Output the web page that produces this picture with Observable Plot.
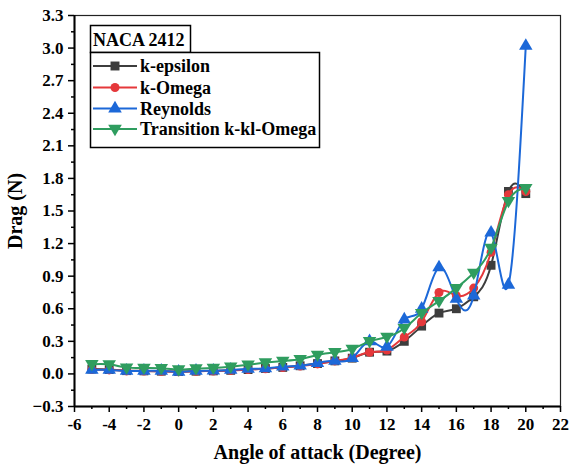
<!DOCTYPE html>
<html><head><meta charset="utf-8">
<script src="https://cdn.jsdelivr.net/npm/d3@7"></script>
<script src="https://cdn.jsdelivr.net/npm/@observablehq/plot@0.6"></script>
<style>body{margin:0;background:#fff} svg{font-family:"Liberation Serif","Times New Roman",serif}</style>
</head><body><div id="chart"></div><script>
const angles = [-5,-4,-3,-2,-1,0,1,2,3,4,5,6,7,8,9,10,11,12,13,14,15,16,17,18,19,20];
const kEpsilon = [0.045,0.04,0.03,0.028,0.025,0.022,0.025,0.028,0.033,0.04,0.05,0.06,0.075,0.095,0.12,0.145,0.2,0.21,0.30,0.44,0.56,0.60,0.71,1.00,1.68,1.66];
const kOmega = [0.04,0.037,0.028,0.026,0.024,0.02,0.024,0.027,0.032,0.04,0.048,0.058,0.072,0.092,0.12,0.15,0.2,0.22,0.34,0.48,0.75,0.72,0.79,1.12,1.65,1.68];
const reynolds = [0.037,0.037,0.028,0.028,0.028,0.02,0.028,0.03,0.037,0.046,0.05,0.067,0.076,0.10,0.12,0.145,0.30,0.25,0.50,0.60,0.98,0.69,0.72,1.30,0.82,3.02];
const transition = [0.09,0.088,0.058,0.055,0.052,0.04,0.05,0.055,0.067,0.085,0.105,0.12,0.135,0.175,0.20,0.23,0.30,0.34,0.42,0.56,0.67,0.79,0.93,1.16,1.59,1.71];
const seriesNames = ["k-epsilon","k-Omega","Reynolds","Transition k-kl-Omega"];
const seriesColors = ["#3d3d3d","#e5383b","#1c68d8","#2f9d5f"];
const xTicks = [-6,-4,-2,0,2,4,6,8,10,12,14,16,18,20,22];
const yTicks = [-0.3,0,0.3,0.6,0.9,1.2,1.5,1.8,2.1,2.4,2.7,3.0,3.3];
const xLabel = "Angle of attack (Degree)";
const yLabel = "Drag (N)";
const legendTitle = "NACA 2412";

const triDown = {draw(ctx, size){const r=Math.sqrt(size/(3*Math.sqrt(3)/4)); const h=r*Math.sqrt(3)/2; ctx.moveTo(-r/1.15, -h/1.6); ctx.lineTo(r/1.15, -h/1.6); ctx.lineTo(0, h*1.05); ctx.closePath();}};
const symbols = ["square","circle","triangle",triDown];

const allSeries = [kEpsilon,kOmega,reynolds,transition];
const data = allSeries.flatMap((vals,i)=>vals.map((v,j)=>({x:angles[j], y:v, s:seriesNames[i], i})));

const marks = [];
allSeries.forEach((vals,i)=>{
  const d = data.filter(o=>o.i===i);
  marks.push(Plot.line(d,{x:"x",y:"y",stroke:seriesColors[i],strokeWidth:2,curve:"natural"}));
  marks.push(Plot.dot(d,{x:"x",y:"y",fill:seriesColors[i],symbol:()=>symbols[i],r:i===1?4.5:5}));
});

const chart = Plot.plot({
  width:569, height:464,
  marginLeft:74, marginRight:9, marginTop:15, marginBottom:58,
  style:{fontFamily:"Liberation Serif, serif", background:"#fff"},
  x:{domain:[-6,22]},
  y:{domain:[-0.3,3.3]},
  marks:[
    Plot.frame({stroke:"#222", strokeWidth:1.2}),
    Plot.ruleX([-6],{stroke:"#000",strokeWidth:2}),
    Plot.ruleY([-0.3],{stroke:"#000",strokeWidth:2}),
    Plot.axisX({ticks:xTicks, tickSize:6, tickPadding:5, tickFormat:d=>String(d), fontSize:17, fontWeight:"bold", label:null, stroke:"#000", strokeWidth:1.5}),
    Plot.axisX({ticks:d3.range(-5,22,2), tickSize:3, tickFormat:null, text:null, label:null, stroke:"#000", strokeWidth:1.5}),
    Plot.axisY({ticks:yTicks, tickSize:6, tickPadding:5, tickFormat:d3.format(".1f"), fontSize:17, fontWeight:"bold", label:null, stroke:"#000", strokeWidth:1.5}),
    Plot.axisY({ticks:yTicks.slice(0,-1).map(t=>+(t+0.15).toFixed(2)), tickSize:3, text:null, label:null, stroke:"#000", strokeWidth:1.5}),
    Plot.text([xLabel],{frameAnchor:"bottom", dy:46, textAnchor:"middle", lineAnchor:"middle", fontSize:20, fontWeight:"bold", fill:"#000"}),
    Plot.text([yLabel],{frameAnchor:"left", dx:-59, rotate:-90, textAnchor:"middle", lineAnchor:"middle", fontSize:20, fontWeight:"bold", fill:"#000"}),
    ...marks
  ]
});
document.getElementById("chart").appendChild(chart);

// legend (inside plot area)
const svg = d3.select(chart);
const lg = svg.append("g").attr("font-family","Liberation Serif, serif").attr("font-weight","bold").attr("text-anchor","start");
lg.append("rect").attr("x",90.5).attr("y",25.5).attr("width",100).attr("height",27).attr("fill","#fff").attr("stroke","#000").attr("stroke-width",1.5);
lg.append("text").attr("x",93).attr("y",45.5).attr("font-size",18).attr("fill","#000").attr("text-anchor","start").text(legendTitle);
lg.append("rect").attr("x",90.5).attr("y",52.5).attr("width",229).attr("height",95).attr("fill","#fff").attr("stroke","#000").attr("stroke-width",1.5);
const legendY = [66,87.5,108.5,129];
const legSym = [d3.symbolSquare,d3.symbolCircle,d3.symbolTriangle,null];
seriesNames.forEach((n,i)=>{
  const y = legendY[i];
  lg.append("line").attr("x1",93).attr("x2",137).attr("y1",y).attr("y2",y).attr("stroke",seriesColors[i]).attr("stroke-width",2);
  let dstr;
  if (i===3) { const p = d3.path(); triDown.draw(p, 80); dstr = p.toString(); }
  else { dstr = d3.symbol(legSym[i], i===1?64:80)(); }
  lg.append("path").attr("d",dstr).attr("transform",`translate(115,${y})`).attr("fill",seriesColors[i]);
  lg.append("text").attr("x",140).attr("y",y+6).attr("font-size",18).attr("fill","#000").attr("text-anchor","start").text(n);
});
</script></body></html>
